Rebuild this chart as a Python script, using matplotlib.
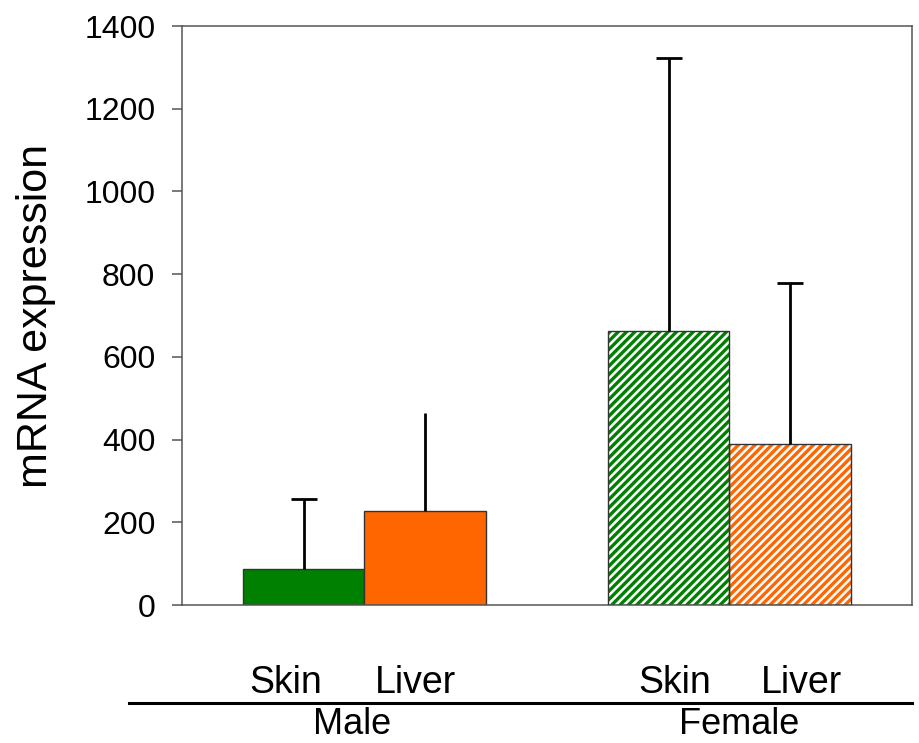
import matplotlib
matplotlib.use("Agg")
import matplotlib.pyplot as plt
import numpy as np

plt.rcParams['font.family'] = ['Liberation Sans', 'DejaVu Sans']
plt.rcParams['hatch.linewidth'] = 2.4

# data
sexes = ["Male", "Female"]
tissues = ["Skin", "Liver", "Skin", "Liver"]
bar_x = [0, 1, 3, 4]
means = [88, 227, 662, 390]
errs = [168, 238, 660, 388]
colors = ["#008000", "#ff6600", "#008000", "#ff6600"]
hatched = [False, False, True, True]
show_cap = [True, False, True, True]
yticks = [0, 200, 400, 600, 800, 1000, 1200, 1400]

# label positions (data x)
tissue_label_x = [-0.15, 0.92, 3.05, 4.09]
sex_label_x = [0.40, 3.58]

fig = plt.figure(figsize=(9.2, 7.43), dpi=100)
ax = fig.add_axes([0.1978, 0.1857, 0.7935, 0.7793])

for x, m, c, h in zip(bar_x, means, colors, hatched):
    if h:
        ax.bar(x, m, width=1, color="white", edgecolor=c, hatch="////", linewidth=0, zorder=2)
        ax.bar(x, m, width=1, fill=False, edgecolor="#333333", linewidth=1, zorder=3)
    else:
        ax.bar(x, m, width=1, color=c, edgecolor="#333333", linewidth=1, zorder=2)

for x, m, e, cap in zip(bar_x, means, errs, show_cap):
    _, caps, _ = ax.errorbar(x, m, yerr=[[0], [e]], fmt="none", ecolor="black",
                             elinewidth=2.0, capsize=9.4 if cap else 0, capthick=2.0, zorder=4)
    if caps:
        caps[0].set_visible(False)

ax.set_xlim(-1, 5)
ax.set_ylim(0, 1400)
ax.set_yticks(yticks)
ax.set_xticks([])
ax.tick_params(axis="y", direction="out", length=7.2, width=1.1, color="#555555",
               pad=12, labelsize=23)
for s in ax.spines.values():
    s.set_color("#555555")
    s.set_linewidth(1.1)

ax.set_ylabel("mRNA expression", fontsize=31)
ax.yaxis.set_label_coords(-0.172, 0.5)

tr = ax.get_xaxis_transform()
for x, t in zip(tissue_label_x, tissues):
    ax.text(x, -0.152, t, transform=tr, ha="center", va="baseline", fontsize=27)
for x, t in zip(sex_label_x, sexes):
    ax.text(x, -0.2362, t, transform=tr, ha="center", va="bottom", fontsize=26)

ax.plot([-0.0726, 1.0], [-0.169, -0.169], transform=ax.transAxes, clip_on=False,
        color="black", linewidth=2.2)

fig.savefig("out.png", dpi=100)
